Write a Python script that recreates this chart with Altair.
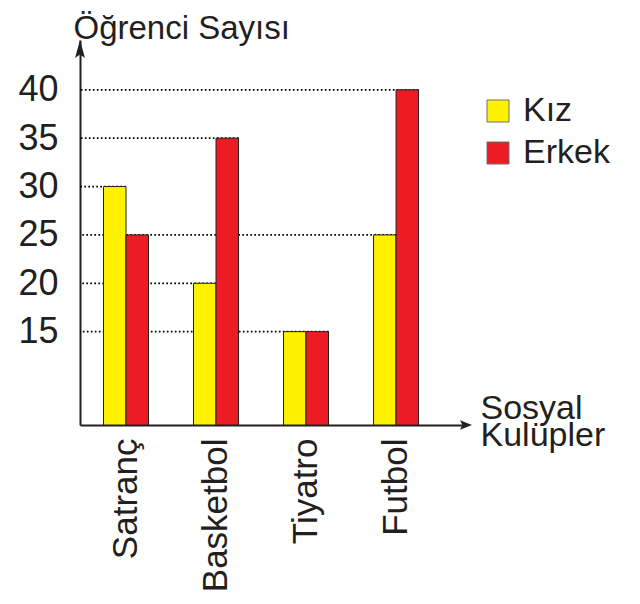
import altair as alt
import pandas as pd

# ---- data ----
clubs = ["Satranç", "Basketbol", "Tiyatro", "Futbol"]
groups = ["Kız", "Erkek"]
kiz = [30, 20, 15, 25]
erkek = [25, 35, 15, 40]
y_ticks = [15, 20, 25, 30, 35, 40]
y_title = "Öğrenci Sayısı"
x_title = ["Sosyal", "Kulüpler"]
colors = ["#FFF200", "#ED1C24"]

rows = []
for i, c in enumerate(clubs):
    rows.append({"club": c, "grup": groups[0], "sayi": kiz[i]})
    rows.append({"club": c, "grup": groups[1], "sayi": erkek[i]})
df = pd.DataFrame(rows)

# dotted guide lines: from the axis to the right-most bar holding that value
ends = []
for v in y_ticks:
    m = df[df.sayi == v]
    if len(m):
        ends.append(m.iloc[-1].to_dict())
ends = pd.DataFrame(ends)
grid_k = ends[ends.grup == groups[0]]
grid_e = ends[ends.grup == groups[1]]

# ---- style ----
FONT = "Liberation Sans"
INK = "#231f20"
YMIN, YMAX = 5.35, 45.15

xscale = alt.Scale(domain=clubs, paddingInner=0.5, paddingOuter=0.372, align=0.351)
yscale = alt.Scale(domain=[YMIN, YMAX], zero=False, nice=False)

x_axis = alt.Axis(
    title=x_title, titleAngle=0, titleX=400, titleY=-7, titleAlign="left",
    titleBaseline="alphabetic", titleFont=FONT, titleFontSize=34, titleFontWeight="normal",
    titleColor=INK, titleLineHeight=27,
    labelAngle=270, labelAlign="right", labelBaseline="middle", labelFont=FONT,
    labelFontSize=35, labelColor=INK, labelPadding=13,
    ticks=False, tickSize=0, domainColor=INK, domainWidth=2, grid=False,
)
y_axis = alt.Axis(
    values=y_ticks, title=y_title, titleAngle=0, titleX=-7, titleY=-2, titleAlign="left",
    titleBaseline="alphabetic", titleFont=FONT, titleFontSize=33, titleFontWeight="normal",
    titleColor=INK,
    labelFont=FONT, labelFontSize=36, labelColor=INK, labelPadding=22, labelBaseline="middle",
    ticks=False, tickSize=0, domainColor=INK, domainWidth=2, grid=False,
)

def gridline(data, band):
    return alt.Chart(data).mark_rule(
        color="#000000", strokeWidth=1.7, strokeDash=[1.7, 2.3], strokeCap="butt"
    ).encode(
        x=alt.X("club:N", scale=xscale, sort=clubs, bandPosition=band, axis=x_axis),
        x2=alt.value(0),
        y=alt.Y("sayi:Q", scale=yscale, axis=y_axis),
    )

bars = alt.Chart(df).mark_bar(stroke=INK, strokeWidth=1).encode(
    x=alt.X("club:N", scale=xscale, sort=clubs, axis=x_axis),
    xOffset=alt.XOffset("grup:N", sort=groups, scale=alt.Scale(domain=groups)),
    y=alt.Y("sayi:Q", scale=yscale, axis=y_axis),
    y2=alt.Y2(datum=YMIN),
    color=alt.Color(
        "grup:N",
        scale=alt.Scale(domain=groups, range=colors),
        legend=alt.Legend(
            orient="none", legendX=401, legendY=54, title=None,
            symbolType="square", symbolSize=484, symbolStrokeColor="#6d6e71",
            symbolStrokeWidth=1, symbolOpacity=1,
            labelFont=FONT, labelFontSize=34, labelColor=INK, labelOffset=8,
            rowPadding=8, padding=0,
        ),
    ),
)

one = pd.DataFrame({"k": [0]})
up_arrow = alt.Chart(one).mark_point(
    shape="M0,-1L0.55,1L0,0.6L-0.55,1Z", size=324, filled=True, color=INK, opacity=1
).encode(x=alt.value(0), y=alt.value(9))
right_arrow = alt.Chart(one).mark_point(
    shape="M1,0L-1,-0.8L-0.6,0L-1,0.8Z", size=144, filled=True, color=INK, opacity=1
).encode(x=alt.value(386), y=alt.value(385))

chart = alt.layer(
    gridline(grid_k, 0.5), gridline(grid_e, 1.0), bars, up_arrow, right_arrow
).properties(
    width=382, height=385,
    autosize=alt.AutoSizeParams(type="none"),
    padding={"left": 72, "top": 32, "right": 170, "bottom": 167},
    background="white",
).configure_view(stroke=None)

chart.save("out.html", embed_options={"renderer": "svg", "actions": False})
